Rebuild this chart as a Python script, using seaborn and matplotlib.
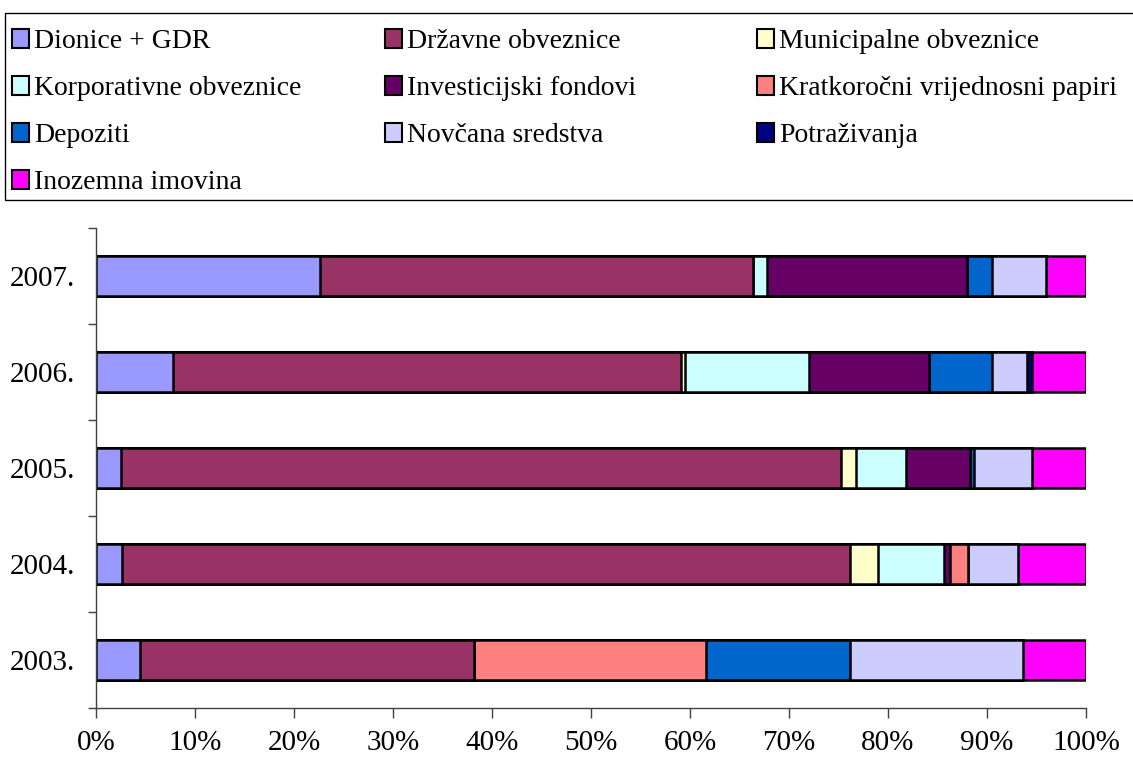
import matplotlib
matplotlib.use('Agg')
import matplotlib.pyplot as plt
from matplotlib.patches import Patch, Rectangle
import seaborn as sns
import pandas as pd
import numpy as np

# Chart data (shares of portfolio, %)
years = ['2007.', '2006.', '2005.', '2004.', '2003.']
series = ['Dionice + GDR', 'Državne obveznice', 'Municipalne obveznice',
          'Korporativne obveznice', 'Investicijski fondovi',
          'Kratkoročni vrijednosni papiri', 'Depoziti', 'Novčana sredstva',
          'Potraživanja', 'Inozemna imovina']
colors = ['#9999FF', '#993366', '#FFFFCC', '#CCFFFF', '#660066',
          '#FF8080', '#0066CC', '#CCCCFF', '#000080', '#FF00FF']

dionice = [22.6, 7.8, 2.5, 2.6, 4.4]
drzavne = [43.8, 51.3, 72.8, 73.6, 33.8]
municipalne = [0.0, 0.4, 1.5, 2.8, 0.0]
korporativne = [1.4, 12.5, 5.0, 6.7, 0.0]
investicijski = [20.2, 12.1, 6.5, 0.6, 0.0]
kratkorocni = [0.0, 0.0, 0.0, 1.8, 23.4]
depoziti = [2.5, 6.4, 0.4, 0.0, 14.6]
novcana = [5.5, 3.5, 5.8, 5.0, 17.4]
potrazivanja = [0.0, 0.5, 0.0, 0.0, 0.0]
inozemna = [4.0, 5.5, 5.5, 6.9, 6.4]

values = [dionice, drzavne, municipalne, korporativne, investicijski,
          kratkorocni, depoziti, novcana, potrazivanja, inozemna]

# Long table with cumulative right edges, so overlapping bars form the stack
cum = np.cumsum(np.array(values), axis=0)
rows = []
for i, s in enumerate(series):
    for j, y in enumerate(years):
        rows.append({'year': y, 'series': s, 'cum': cum[i, j]})
df = pd.DataFrame(rows)

sns.set_style('white')
plt.rcParams['font.family'] = ['Liberation Serif', 'DejaVu Serif']
plt.rcParams['text.color'] = 'black'
plt.rcParams['xtick.color'] = 'black'
plt.rcParams['ytick.color'] = 'black'

fig = plt.figure(figsize=(11.33, 7.65), dpi=100)
ax = fig.add_axes([96 / 1133, 1 - 708 / 765, 990 / 1133, 480 / 765])

sns.barplot(data=df, x='cum', y='year', hue='series', order=years,
            hue_order=series[::-1], palette=dict(zip(series, colors)),
            dodge=False, orient='h', width=0.41, errorbar=None,
            saturation=1, edgecolor='black', linewidth=1.8, legend=False,
            ax=ax)

ax.set_xlim(0, 100)
ax.set_ylim(4.5, -0.5)
ax.set_xticks(np.arange(0, 101, 10))
ax.set_xticklabels([f'{v}%' for v in range(0, 101, 10)], fontsize=21)
ax.set_yticks(range(len(years)))
ax.set_yticklabels(years, fontsize=21)
ax.set_yticks(np.arange(-0.5, len(years), 1.0), minor=True)
ax.tick_params(axis='y', which='major', length=0, pad=15)
ax.tick_params(axis='y', which='minor', length=6, width=1, color='#404040',
               direction='out', left=True)
ax.tick_params(axis='x', length=7, width=1, color='#404040', direction='out',
               bottom=True, pad=9)
ax.set_xlabel('')
ax.set_ylabel('')
for side in ['top', 'right']:
    ax.spines[side].set_visible(False)
for side in ['left', 'bottom']:
    ax.spines[side].set_color('#404040')
    ax.spines[side].set_linewidth(1)

# Legend: three columns, filled row by row, inside one box
handles = [Patch(facecolor=c, edgecolor='black', linewidth=1.5) for c in colors]
col_x = [12 / 1133, 385 / 1133, 757 / 1133]
for k in range(3):
    idx = list(range(k, len(series), 3))
    fig.legend([handles[i] for i in idx], [series[i] for i in idx],
               loc='upper left', bbox_to_anchor=(col_x[k], 1 - 29 / 765),
               frameon=False, fontsize=20, handlelength=0.6,
               handleheight=0.7, handletextpad=0.2, labelspacing=0.77,
               borderaxespad=0, borderpad=0)
fig.patches.append(Rectangle((5 / 1133, 1 - 200 / 765), 1.2, 187 / 765,
                             transform=fig.transFigure, fill=False,
                             edgecolor='black', linewidth=1))

fig.savefig('out.png', dpi=100)
